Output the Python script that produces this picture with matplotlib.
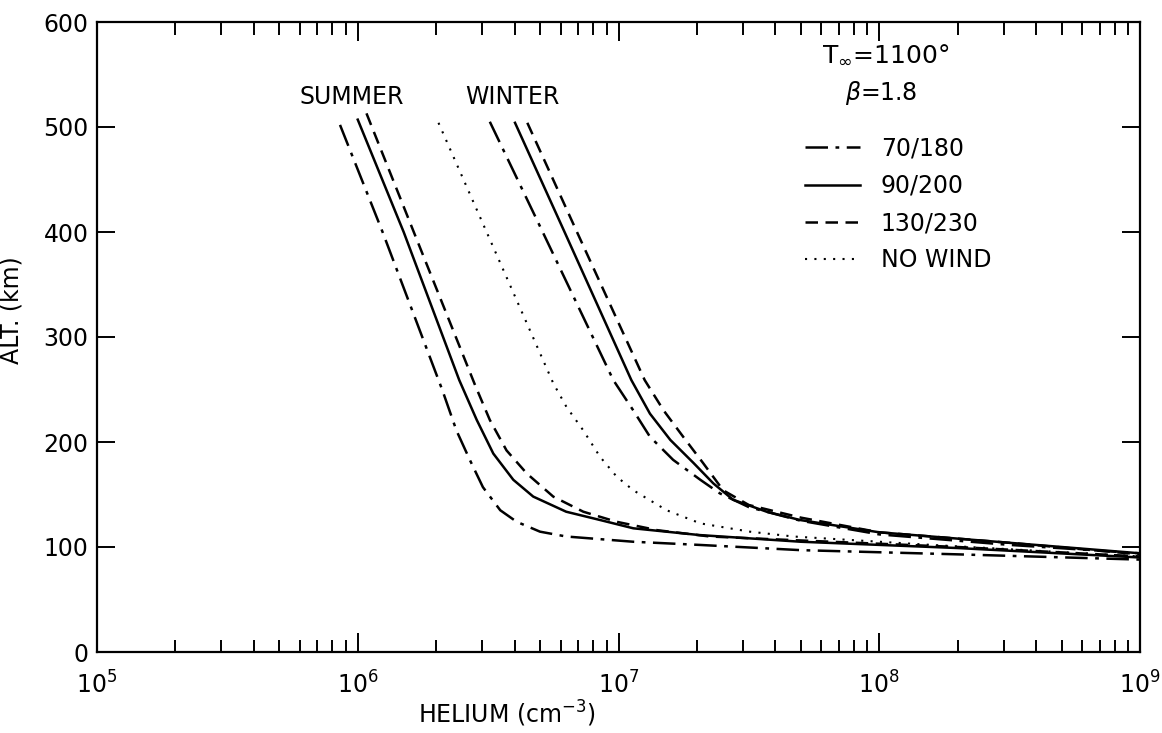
import numpy as np
import matplotlib
matplotlib.use("Agg")
from matplotlib import pyplot as plt
from matplotlib.ticker import LogLocator, LogFormatterMathtext, MultipleLocator

plt.rcParams['font.family'] = ['DejaVu Sans']
plt.rcParams['mathtext.fontset'] = 'dejavusans'

# helium number density (cm^-3) vs altitude (km), summer hemisphere
summer_70_alt = [502, 400, 249.5, 211, 183, 157, 135, 124, 114.6, 110, 105, 102, 97, 93, 88]
summer_70_he = [8.55e5, 1.245e6, 2.11e6, 2.39e6, 2.69e6, 3.02e6, 3.52e6, 4.07e6, 5.0e6,
                6.3e6, 1.14e7, 2.04e7, 5.0e7, 2.0e8, 1.0e9]

summer_90_alt = [507, 400, 259, 221, 189, 164, 148, 133.6, 125.7, 117.8, 111.4, 105, 99, 90]
summer_90_he = [1.0e6, 1.50e6, 2.45e6, 2.86e6, 3.31e6, 3.95e6, 4.71e6, 6.3e6, 8.5e6,
                1.14e7, 2.04e7, 5.0e7, 2.0e8, 1.0e9]

summer_130_alt = [513, 400, 254, 221, 192, 170, 148, 133.6, 124, 116, 110, 106, 100, 91]
summer_130_he = [1.08e6, 1.64e6, 2.82e6, 3.21e6, 3.72e6, 4.45e6, 5.62e6, 7.33e6, 9.84e6,
                 1.41e7, 2.24e7, 5.25e7, 2.0e8, 1.0e9]

# no-wind case
nowind_alt = [504, 400, 256, 233.6, 211, 186, 167, 154, 135, 122.5, 114.6, 110, 102, 91]
nowind_he = [2.04e6, 3.12e6, 5.62e6, 6.31e6, 7.33e6, 8.49e6, 9.84e6, 1.14e7, 1.53e7,
             2.06e7, 3.19e7, 4.68e7, 1.58e8, 1.0e9]

# winter hemisphere
winter_70_alt = [505, 400, 259, 230, 205, 183, 164, 151, 138, 125, 112, 102, 94]
winter_70_he = [3.21e6, 5.12e6, 9.55e6, 1.14e7, 1.32e7, 1.62e7, 2.06e7, 2.45e7, 3.16e7,
                5.0e7, 1.0e8, 3.16e8, 1.0e9]

winter_90_alt = [504, 400, 259, 227, 202, 180, 160.6, 145, 133.6, 125.7, 114, 104, 94]
winter_90_he = [4.01e6, 6.21e6, 1.12e7, 1.32e7, 1.58e7, 1.94e7, 2.31e7, 2.75e7, 3.70e7,
                4.97e7, 1.0e8, 3.16e8, 1.0e9]

winter_130_alt = [504, 400, 259, 230, 205, 180, 154, 140, 128, 114, 104, 93]
winter_130_he = [4.47e6, 6.93e6, 1.26e7, 1.49e7, 1.77e7, 2.11e7, 2.52e7, 3.16e7, 5.0e7,
                 1.0e8, 3.16e8, 1.0e9]

wind_labels = ['70/180', '90/200', '130/230', 'NO WIND']

dashdot = (0, (9, 3, 1.5, 3))
dashed = (0, (5, 3))
dotted = (0, (1, 3.5))
lw = 1.8

fig = plt.figure(figsize=(11.62, 7.33), dpi=100)
ax = fig.add_axes([97/1162, 1 - 652/733, 1043/1162, 630/733])

h1, = ax.plot(summer_70_he, summer_70_alt, color='black', lw=lw, linestyle=dashdot)
h2, = ax.plot(summer_90_he, summer_90_alt, color='black', lw=lw, linestyle='-')
h3, = ax.plot(summer_130_he, summer_130_alt, color='black', lw=lw, linestyle=dashed)
h4, = ax.plot(nowind_he, nowind_alt, color='black', lw=1.5, linestyle=dotted)
ax.plot(winter_70_he, winter_70_alt, color='black', lw=lw, linestyle=dashdot)
ax.plot(winter_90_he, winter_90_alt, color='black', lw=lw, linestyle='-')
ax.plot(winter_130_he, winter_130_alt, color='black', lw=lw, linestyle=dashed)

ax.set_xscale('log')
ax.set_xlim(1e5, 1e9)
ax.set_ylim(0, 600)
ax.yaxis.set_major_locator(MultipleLocator(100))
ax.xaxis.set_major_locator(LogLocator(base=10, numticks=10))
ax.xaxis.set_minor_locator(LogLocator(base=10, subs=np.arange(2, 10), numticks=20))
ax.xaxis.set_major_formatter(LogFormatterMathtext())

for s in ax.spines.values():
    s.set_linewidth(1.6)
ax.tick_params(axis='both', which='both', direction='in', top=True, right=True,
               width=1.4, labelsize=17, colors='black')
ax.tick_params(axis='x', which='major', length=14, pad=14)
ax.tick_params(axis='x', which='minor', length=9)
ax.tick_params(axis='y', which='major', length=13, pad=6)

ax.set_xlabel('HELIUM (cm$^{-3}$)', fontsize=17)
ax.xaxis.set_label_coords(0.393, -0.075)
ax.set_ylabel('ALT. (km)', fontsize=17)
ax.yaxis.set_label_coords(-0.07, 0.543)

ax.text(0.244, 0.881, 'SUMMER', transform=ax.transAxes, fontsize=17,
        ha='center', va='center')
ax.text(0.398, 0.881, 'WINTER', transform=ax.transAxes, fontsize=17,
        ha='center', va='center')
ax.text(0.695, 0.948, 'T$_\\infty$=1100°', transform=ax.transAxes, fontsize=18,
        ha='left', va='center')
ax.text(0.717, 0.887, '$\\beta$=1.8', transform=ax.transAxes, fontsize=17,
        ha='left', va='center')

ax.legend([h1, h2, h3, h4], wind_labels, loc='upper left',
          bbox_to_anchor=(0.679, 0.818), frameon=False, fontsize=17,
          handlelength=2.3, handletextpad=0.9, labelspacing=0.56,
          borderpad=0, borderaxespad=0)

fig.savefig('out.png', dpi=100)
